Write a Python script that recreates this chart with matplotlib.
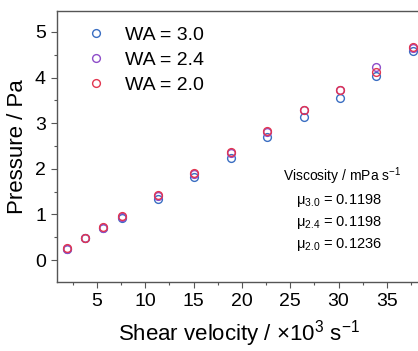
import numpy as np
import matplotlib
matplotlib.use("Agg")
import matplotlib.pyplot as plt
from matplotlib.ticker import MultipleLocator

plt.rcParams['font.family'] = ['Liberation Sans', 'DejaVu Sans']
plt.rcParams['mathtext.fontset'] = 'custom'
plt.rcParams['mathtext.rm'] = 'Liberation Sans'
plt.rcParams['mathtext.it'] = 'Liberation Sans:italic'

# shear velocity (x10^3 s^-1)
shear = [1.9, 3.77, 5.65, 7.54, 11.3, 15.08, 18.85, 22.6, 26.4, 30.15, 33.9, 37.7]

# pressure (Pa) for each WA value
p_wa30 = [0.25, 0.48, 0.71, 0.93, 1.35, 1.82, 2.24, 2.69, 3.13, 3.56, 4.04, 4.59]
p_wa24 = [0.25, 0.48, 0.71, 0.95, 1.41, 1.88, 2.35, 2.81, 3.28, 3.72, 4.23, 4.64]
p_wa20 = [0.26, 0.49, 0.72, 0.96, 1.43, 1.90, 2.37, 2.83, 3.29, 3.73, 4.12, 4.68]

labels = ['WA = 3.0', 'WA = 2.4', 'WA = 2.0']
colors = ['#3A6EC2', '#8E4DC9', '#E2354F']

visc_title = 'Viscosity / mPa s$^{\\mathregular{-1}}$'
visc_lines = ['\u03bc$_{\\mathregular{3.0}}$ = 0.1198',
              '\u03bc$_{\\mathregular{2.4}}$ = 0.1198',
              '\u03bc$_{\\mathregular{2.0}}$ = 0.1236']

fig = plt.figure(figsize=(4.18, 3.51), dpi=100)
ax = fig.add_axes([0.1364, 0.1966, 0.870, 0.7721])

for y, lab, c in zip([p_wa30, p_wa24, p_wa20], labels, colors):
    ax.plot(shear, y, linestyle='none', marker='o', markersize=5.6,
            markerfacecolor='none', markeredgecolor=c, markeredgewidth=1.0,
            label=lab)

ax.set_xlim(0.86, 38.5)
ax.set_ylim(-0.48, 5.46)
ax.xaxis.set_major_locator(MultipleLocator(5))
ax.xaxis.set_minor_locator(MultipleLocator(2.5))
ax.yaxis.set_major_locator(MultipleLocator(1))
ax.yaxis.set_minor_locator(MultipleLocator(0.5))

for s in ax.spines.values():
    s.set_color('#555555')
    s.set_linewidth(1.0)
ax.spines['right'].set_visible(False)

ax.tick_params(which='major', direction='out', length=4, width=0.8,
               color='#555555', labelsize=14, pad=4)
ax.tick_params(which='minor', direction='out', length=2.5, width=0.8,
               color='#555555')

ax.set_xlabel('Shear velocity / \u00d710$^{\\mathregular{3}}$ s$^{\\mathregular{-1}}$',
              fontsize=16, labelpad=6)
ax.set_ylabel('Pressure / Pa', fontsize=16, labelpad=5)

ax.legend(loc='upper left', bbox_to_anchor=(0.081, 0.945), frameon=False,
          fontsize=14, handlelength=1.0, handletextpad=1.0,
          labelspacing=0.4, borderpad=0, borderaxespad=0)

fig.text(0.8175, 0.4966, visc_title, ha='center', va='center', fontsize=10)
for i, t in enumerate(visc_lines):
    fig.text(0.811, 0.4282 - i * 0.0617, t, ha='center', va='center',
             fontsize=10.5)

fig.savefig('out.png', dpi=100)
